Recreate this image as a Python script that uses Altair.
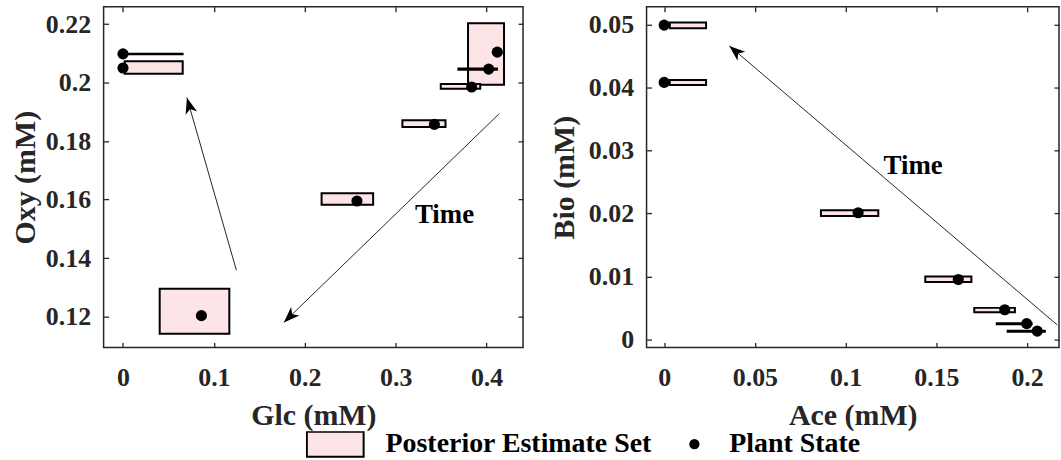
import math
import altair as alt
import pandas as pd

FONT = "Liberation Serif"
INK = "#262626"
PINK = "#fde4e6"

# ---------------- Glc / Oxy panel ----------------
glc_state = [0.0, 0.0, 0.0863, 0.2574, 0.3426, 0.3836, 0.4023, 0.4118]
oxy_state = [0.2098, 0.2050, 0.1203, 0.1595, 0.1857, 0.1985, 0.2046, 0.2104]

# estimate boxes, listed in drawing order (later boxes sit on top)
glc_box_lo = [0.0, 0.0019, 0.0404, 0.2185, 0.3074, 0.3796, 0.3496, 0.3690]
glc_box_hi = [0.0656, 0.0657, 0.1170, 0.2752, 0.3548, 0.4192, 0.3930, 0.4114]
oxy_box_lo = [0.20965, 0.2030, 0.1141, 0.1582, 0.1848, 0.1993, 0.1979, 0.20440]
oxy_box_hi = [0.20985, 0.2073, 0.1295, 0.1622, 0.1871, 0.2203, 0.1995, 0.20480]

glc_arrow_from = [0.1248, 0.4140]
oxy_arrow_from = [0.1358, 0.1894]
glc_arrow_to = [0.0704, 0.1770]
oxy_arrow_to = [0.1948, 0.1180]
glc_time, oxy_time = 0.3537, 0.1548

glc_ticks = [0, 0.1, 0.2, 0.3, 0.4]
oxy_ticks = [0.12, 0.14, 0.16, 0.18, 0.2, 0.22]
glc_domain = [-0.0213, 0.4401]
oxy_domain = [0.1094, 0.2259]

# ---------------- Ace / Bio panel ----------------
ace_state = [0.0, 0.0, 0.1069, 0.1621, 0.1877, 0.1998, 0.2056]
bio_state = [0.0499, 0.0408, 0.0201, 0.0095, 0.0047, 0.0025, 0.0013]

ace_box_lo = [0.0031, 0.0031, 0.0864, 0.1439, 0.1709, 0.1833, 0.1893]
ace_box_hi = [0.0231, 0.0231, 0.1180, 0.1693, 0.1933, 0.2025, 0.2098]
bio_box_lo = [0.0494, 0.0404, 0.0196, 0.0091, 0.0043, 0.00240, 0.00120]
bio_box_hi = [0.0503, 0.0412, 0.0205, 0.0100, 0.0050, 0.00255, 0.00135]

ace_arrow_from = [0.2166]
bio_arrow_from = [0.0023]
ace_arrow_to = [0.0359]
bio_arrow_to = [0.0466]
ace_time, bio_time = 0.1372, 0.0276

ace_ticks = [0, 0.05, 0.1, 0.15, 0.2]
bio_ticks = [0, 0.01, 0.02, 0.03, 0.04, 0.05]
ace_domain = [-0.0097, 0.2176]
bio_domain = [-0.0013, 0.0528]

legend_labels = ["Posterior Estimate Set", "Plant State"]

# arrowhead outline: tip at the origin, pointing up
HEAD = "M0,0L0.75,2L0,1.45L-0.75,2Z"
# wide box symbol for the legend
BOX = "M-1,-0.44L1,-0.44L1,0.44L-1,0.44Z"

H = 342
W_LEFT, W_RIGHT = 421, 414


def arrow_tables(x0s, y0s, x1s, y1s, xdom, ydom, w, h):
    seg_rows, head_rows = [], []
    for i, (x0, y0, x1, y1) in enumerate(zip(x0s, y0s, x1s, y1s)):
        seg_rows.append({"id": i, "k": 0, "x": x0, "y": y0})
        seg_rows.append({"id": i, "k": 1, "x": x1, "y": y1})
        dx = (x1 - x0) / (xdom[1] - xdom[0]) * w
        dy = -(y1 - y0) / (ydom[1] - ydom[0]) * h
        ang = math.degrees(math.atan2(dx, -dy)) % 360
        head_rows.append({"x": x1, "y": y1, "angle": ang})
    return pd.DataFrame(seg_rows), pd.DataFrame(head_rows)


def panel(xs, ys, bx0, bx1, by0, by1, ax0, ay0, ax1, ay1, tx, ty,
          xdom, ydom, xticks, yticks, xtitle, ytitle, w, ytitle_pad, legend=None):
    xsc = alt.Scale(domain=xdom, nice=False, zero=False)
    ysc = alt.Scale(domain=ydom, nice=False, zero=False)
    ax_b = alt.Axis(values=xticks, format="~g", title=xtitle, orient="bottom",
                    offset=-5, tickSize=5, domain=False, grid=False,
                    labelPadding=17, titlePadding=10)
    ax_l = alt.Axis(values=yticks, format="~g", title=ytitle, orient="left",
                    offset=-5, tickSize=5, domain=False, grid=False,
                    labelPadding=13, titlePadding=ytitle_pad)
    ax_t = alt.Axis(values=xticks, orient="top", labels=False, title=None,
                    offset=-5, tickSize=5, domain=False, grid=False)
    ax_r = alt.Axis(values=yticks, orient="right", labels=False, title=None,
                    offset=-5, tickSize=5, domain=False, grid=False)

    boxes = pd.DataFrame({"x0": bx0, "x1": bx1, "y0": by0, "y1": by1,
                          "n": list(range(len(bx0)))})
    states = pd.DataFrame({"x": xs, "y": ys})
    segs, heads = arrow_tables(ax0, ay0, ax1, ay1, xdom, ydom, w, H)
    label = pd.DataFrame({"x": [tx], "y": [ty], "t": ["Time"]})

    rects = alt.Chart(boxes).mark_rect(fill=PINK, stroke="black", strokeWidth=2).encode(
        x=alt.X("x0:Q", scale=xsc, axis=ax_b), x2="x1:Q",
        y=alt.Y("y0:Q", scale=ysc, axis=ax_l), y2="y1:Q",
        order="n:Q")
    lines = alt.Chart(segs).mark_line(color=INK, strokeWidth=1).encode(
        x=alt.X("x:Q", scale=xsc, axis=None), y=alt.Y("y:Q", scale=ysc, axis=None),
        detail="id:N", order="k:Q")
    tips = alt.Chart(heads).mark_point(shape=HEAD, filled=True, color="black",
                                       size=256, opacity=1, strokeWidth=0).encode(
        x=alt.X("x:Q", scale=xsc, axis=None), y=alt.Y("y:Q", scale=ysc, axis=None),
        angle=alt.Angle("angle:Q", scale=None))
    text = alt.Chart(label).mark_text(font=FONT, fontWeight="bold", fontSize=27,
                                      color="black").encode(
        x=alt.X("x:Q", scale=xsc, axis=None), y=alt.Y("y:Q", scale=ysc, axis=None),
        text="t:N")
    pts = alt.Chart(states).mark_circle(size=125, color="black", opacity=1).encode(
        x=alt.X("x:Q", scale=xsc, axis=ax_t), y=alt.Y("y:Q", scale=ysc, axis=ax_r))
    layers = [rects, lines, tips, text, pts]
    if legend is not None:
        layers.append(legend)
    return alt.layer(*layers).resolve_axis(x="independent", y="independent").properties(
        width=w, height=H)


leg = alt.Legend(orient="none", legendX=203, legendY=426, direction="horizontal",
                 title=None, labelFont=FONT, labelFontWeight="bold", labelFontSize=28,
                 labelColor="black", labelLimit=500, symbolStrokeWidth=2, symbolOpacity=1,
                 labelOffset=21, columnPadding=28, clipHeight=26)
leg_df = pd.DataFrame({"kind": legend_labels})
# invisible carrier marks for the legend, kept inside the plot area
legend_layer = alt.Chart(leg_df).mark_point(filled=True, opacity=0).encode(
    x=alt.value(W_LEFT / 2), y=alt.value(H / 2),
    shape=alt.Shape("kind:N", scale=alt.Scale(domain=legend_labels, range=[BOX, "circle"]), legend=leg),
    fill=alt.Fill("kind:N", scale=alt.Scale(domain=legend_labels, range=[PINK, "black"]), legend=leg),
    stroke=alt.Stroke("kind:N", scale=alt.Scale(domain=legend_labels, range=["black", "black"]), legend=leg),
    size=alt.Size("kind:N", scale=alt.Scale(domain=legend_labels, range=[3249, 70]), legend=leg),
)

left = panel(glc_state, oxy_state, glc_box_lo, glc_box_hi, oxy_box_lo, oxy_box_hi,
             glc_arrow_from, oxy_arrow_from, glc_arrow_to, oxy_arrow_to, glc_time, oxy_time,
             glc_domain, oxy_domain, glc_ticks, oxy_ticks, "Glc (mM)", "Oxy (mM)", W_LEFT, 5,
             legend=legend_layer)
right = panel(ace_state, bio_state, ace_box_lo, ace_box_hi, bio_box_lo, bio_box_hi,
              ace_arrow_from, bio_arrow_from, ace_arrow_to, bio_arrow_to, ace_time, bio_time,
              ace_domain, bio_domain, ace_ticks, bio_ticks, "Ace (mM)", "Bio (mM)", W_RIGHT, 9)

chart = alt.hconcat(left, right, spacing=23).properties(
    padding={"left": 9, "top": 4, "right": 0, "bottom": 0},
    background="white",
).configure_view(stroke=INK, strokeWidth=1.5).configure_axis(
    labelFont=FONT, titleFont=FONT, labelFontWeight="bold", titleFontWeight="bold",
    labelFontSize=26, titleFontSize=30, labelColor=INK, titleColor=INK,
    tickColor=INK, tickWidth=1.3)

chart.save("out.html", embed_options={"renderer": "svg", "actions": False})
